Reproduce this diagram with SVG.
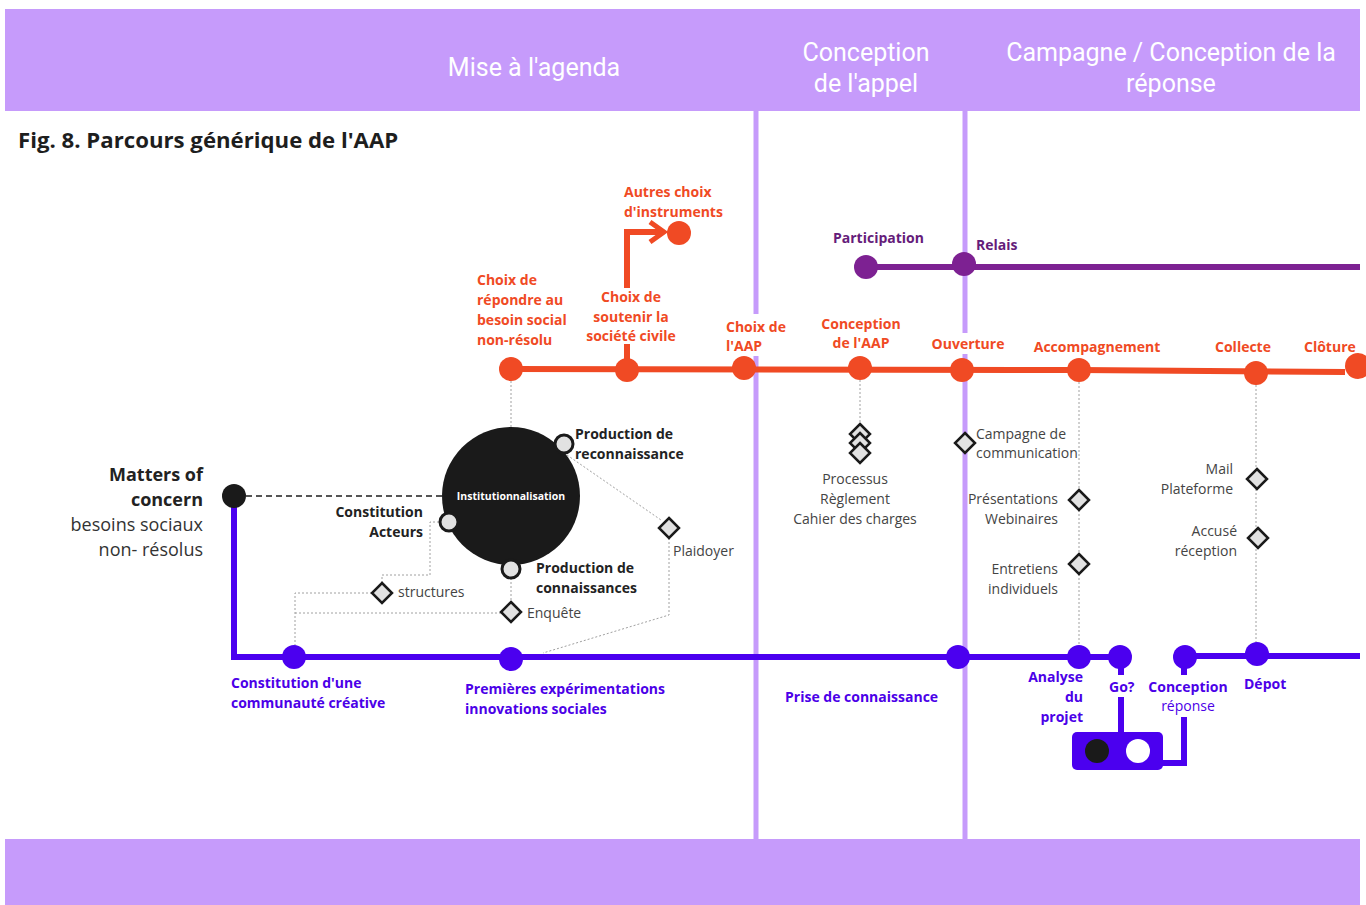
<svg xmlns="http://www.w3.org/2000/svg" width="1366" height="905" viewBox="0 0 1366 905">
  <style>
    .band { fill: #c69bfb; }
    .phase { fill: #ffffff; font-family: Roboto, "Open Sans", sans-serif; font-weight: 400; font-size: 25px; text-anchor: middle; }
    .title { fill: #1e1e1e; font-family: "Open Sans", sans-serif; font-weight: 700; font-size: 22.2px; }
    .sep { stroke: #c69bfb; stroke-width: 5; }
    .lbl-o { fill: #f04a24; font-family: "Open Sans", sans-serif; font-weight: 700; font-size: 14px; }
    .lbl-p { fill: #651c7a; font-family: "Open Sans", sans-serif; font-weight: 700; font-size: 14px; }
    .lbl-b { fill: #4b00e8; font-family: "Open Sans", sans-serif; font-weight: 700; font-size: 14px; }
    .lbl-bn { fill: #4b00e8; font-family: "Open Sans", sans-serif; font-weight: 400; font-size: 14px; }
    .lbl-k { fill: #222222; font-family: "Open Sans", sans-serif; font-weight: 700; font-size: 14px; }
    .lbl-g { fill: #444444; font-family: "Open Sans", sans-serif; font-weight: 400; font-size: 14px; }
    .big-k { fill: #222222; font-family: "Open Sans", sans-serif; font-weight: 700; font-size: 18px; text-anchor: end; }
    .big-g { fill: #333333; font-family: "Open Sans", sans-serif; font-weight: 400; font-size: 18px; text-anchor: end; }
    .mid { text-anchor: middle; }
    .end { text-anchor: end; }
    .bg { fill: #ffffff; }
    .line-o { stroke: #f04a24; stroke-width: 6; fill: none; }
    .line-p { stroke: #7d2192; stroke-width: 6; fill: none; }
    .line-b { stroke: #4b00ef; stroke-width: 6; fill: none; }
    .dot { stroke: #a0a0a0; stroke-width: 1; stroke-dasharray: 2 2; fill: none; }
    .dash { stroke: #555555; stroke-width: 1.8; stroke-dasharray: 6 4; fill: none; }
    .node-o { fill: #f04a24; }
    .node-p { fill: #7d2192; }
    .node-b { fill: #4b00ef; }
    .sub { fill: #e2e2e2; stroke: #1a1a1a; stroke-width: 3; }
    .dia { fill: #e2e2e2; stroke: #1a1a1a; stroke-width: 2.5; }
  </style>
  <defs>
    <polygon id="diamond" class="dia" points="0,-10 10,0 0,10 -10,0"/>
    <marker id="chev" viewBox="0 0 12 12" refX="9" refY="6" markerWidth="4" markerHeight="4" orient="auto" markerUnits="strokeWidth">
      <polyline points="2,1 9,6 2,11" fill="none" stroke="#f04a24" stroke-width="2.5"/>
    </marker>
  </defs>

  <!-- background -->
  <rect width="1366" height="905" fill="#ffffff"/>

  <!-- phase bands and separators -->
  <g id="phases">
    <rect class="band" x="5" y="9" width="1355" height="102"/>
    <rect class="band" x="5" y="839" width="1355" height="66"/>
    <line class="sep" x1="756" y1="111" x2="756" y2="839"/>
    <line class="sep" x1="965" y1="111" x2="965" y2="839"/>
    <text class="phase" x="534" y="76">Mise à l'agenda</text>
    <text class="phase" x="866" y="61">Conception</text>
    <text class="phase" x="866" y="92">de l'appel</text>
    <text class="phase" x="1171" y="61">Campagne / Conception de la</text>
    <text class="phase" x="1171" y="92">réponse</text>
  </g>

  <text id="title" class="title" x="18" y="148">Fig. 8. Parcours générique de l'AAP</text>

  <!-- connectors -->
  <g id="connectors">
    <!-- secondary dotted links -->
    <line class="dot" x1="511" y1="381" x2="511" y2="428"/>
    <polyline class="dot" points="443,522 430,522 430,575 382,575 382,583"/>
    <polyline class="dot" points="372,593 295,593 295,647"/>
    <line class="dot" x1="295" y1="613" x2="501" y2="613"/>
    <line class="dot" x1="511" y1="578" x2="511" y2="602"/>
    <line class="dot" x1="567" y1="455" x2="661" y2="520"/>
    <polyline class="dot" points="669,538 669,615 543,653"/>
    <line class="dot" x1="860" y1="380" x2="860" y2="425"/>
    <line class="dot" x1="1079" y1="382" x2="1079" y2="646"/>
    <line class="dot" x1="1256" y1="385" x2="1256" y2="643"/>
    <line class="dash" x1="246" y1="496" x2="443" y2="496"/>

    <!-- branch to other instruments -->
    <polyline class="line-o" points="627,368 627,232 664,232" marker-end="url(#chev)"/>

    <!-- main orange track -->
    <polyline class="line-o" points="511,369 1079,370 1345,372"/>

    <!-- purple track -->
    <line class="line-p" x1="866" y1="267" x2="1360" y2="267"/>

    <!-- blue track -->
    <polyline class="line-b" points="234,496 234,657 1120,657" stroke-linejoin="miter"/>
    <line class="line-b" x1="1185" y1="656" x2="1360" y2="656"/>
    <line class="line-b" x1="1121" y1="657" x2="1121" y2="675"/>
    <line class="line-b" x1="1121" y1="697" x2="1121" y2="733"/>
    <line class="line-b" x1="1184" y1="657" x2="1184" y2="675"/>
    <polyline class="line-b" points="1160,763 1184,763 1184,717"/>
  </g>

  <!-- label backgrounds that interrupt the separators -->
  <rect class="bg" x="585" y="288" width="94" height="56"/>
  <rect class="bg" x="723" y="314" width="66" height="42"/>
  <rect class="bg" x="930" y="333" width="76" height="21"/>

  <!-- orange track nodes -->
  <g id="n-repondre">
    <circle class="node-o" cx="511" cy="369" r="12"/>
    <text class="lbl-o" x="477" y="285">Choix de</text>
    <text class="lbl-o" x="477" y="305">répondre au</text>
    <text class="lbl-o" x="477" y="325">besoin social</text>
    <text class="lbl-o" x="477" y="345">non-résolu</text>
  </g>
  <g id="n-soutenir">
    <circle class="node-o" cx="627" cy="370" r="12"/>
    <text class="lbl-o mid" x="631" y="302">Choix de</text>
    <text class="lbl-o mid" x="631" y="322">soutenir la</text>
    <text class="lbl-o mid" x="631" y="341">société civile</text>
  </g>
  <g id="n-autres">
    <circle class="node-o" cx="679" cy="233" r="12"/>
    <text class="lbl-o" x="624" y="197">Autres choix</text>
    <text class="lbl-o" x="624" y="217">d'instruments</text>
  </g>
  <g id="n-choix-aap">
    <circle class="node-o" cx="744" cy="368" r="12"/>
    <text class="lbl-o" x="726" y="332">Choix de</text>
    <text class="lbl-o" x="726" y="351">l'AAP</text>
  </g>
  <g id="n-conception-aap">
    <circle class="node-o" cx="860" cy="368" r="12"/>
    <text class="lbl-o mid" x="861" y="329">Conception</text>
    <text class="lbl-o mid" x="861" y="348">de l'AAP</text>
    <use href="#diamond" x="860" y="434"/>
    <use href="#diamond" x="860" y="443"/>
    <use href="#diamond" x="860" y="453"/>
    <text class="lbl-g mid" x="855" y="484">Processus</text>
    <text class="lbl-g mid" x="855" y="504">Règlement</text>
    <text class="lbl-g mid" x="855" y="524">Cahier des charges</text>
  </g>
  <g id="n-ouverture">
    <circle class="node-o" cx="962" cy="370" r="12"/>
    <text class="lbl-o mid" x="968" y="349">Ouverture</text>
    <use href="#diamond" x="965" y="443"/>
    <text class="lbl-g" x="976" y="439">Campagne de</text>
    <text class="lbl-g" x="976" y="458">communication</text>
  </g>
  <g id="n-accompagnement">
    <circle class="node-o" cx="1079" cy="370" r="12"/>
    <text class="lbl-o mid" x="1097" y="352">Accompagnement</text>
    <use href="#diamond" x="1079" y="500"/>
    <use href="#diamond" x="1079" y="564"/>
    <text class="lbl-g end" x="1058" y="504">Présentations</text>
    <text class="lbl-g end" x="1058" y="524">Webinaires</text>
    <text class="lbl-g end" x="1058" y="574">Entretiens</text>
    <text class="lbl-g end" x="1058" y="594">individuels</text>
  </g>
  <g id="n-collecte">
    <circle class="node-o" cx="1256" cy="373" r="12"/>
    <text class="lbl-o mid" x="1243" y="352">Collecte</text>
    <use href="#diamond" x="1257" y="479"/>
    <use href="#diamond" x="1258" y="538"/>
    <text class="lbl-g end" x="1233" y="474">Mail</text>
    <text class="lbl-g end" x="1233" y="494">Plateforme</text>
    <text class="lbl-g end" x="1237" y="536">Accusé</text>
    <text class="lbl-g end" x="1237" y="556">réception</text>
  </g>
  <g id="n-cloture">
    <text class="lbl-o" x="1304" y="352">Clôture</text>
    <circle class="node-o" cx="1358" cy="366" r="13"/>
  </g>

  <!-- purple track nodes -->
  <g id="n-participation">
    <circle class="node-p" cx="866" cy="267" r="12"/>
    <text class="lbl-p" x="833" y="243">Participation</text>
  </g>
  <g id="n-relais">
    <circle class="node-p" cx="964" cy="264" r="12"/>
    <text class="lbl-p" x="976" y="250">Relais</text>
  </g>

  <!-- origin -->
  <g id="n-matters">
    <circle cx="234" cy="496" r="12" fill="#1a1a1a"/>
    <text class="big-k" x="203" y="481">Matters of</text>
    <text class="big-k" x="203" y="506">concern</text>
    <text class="big-g" x="203" y="531">besoins sociaux</text>
    <text class="big-g" x="203" y="556">non- résolus</text>
  </g>

  <!-- institutionalisation cluster -->
  <g id="n-institution">
    <circle cx="511" cy="496" r="69" fill="#1a1a1a"/>
    <text x="511" y="500" fill="#ffffff" font-family="'Open Sans', sans-serif" font-weight="700" font-size="10.5" text-anchor="middle">Institutionnalisation</text>
  </g>
  <g id="n-reconnaissance">
    <circle class="sub" cx="564" cy="444" r="9"/>
    <text class="lbl-k" x="575" y="439">Production de</text>
    <text class="lbl-k" x="575" y="459">reconnaissance</text>
  </g>
  <g id="n-acteurs">
    <circle class="sub" cx="449" cy="522" r="9"/>
    <text class="lbl-k end" x="423" y="517">Constitution</text>
    <text class="lbl-k end" x="423" y="537">Acteurs</text>
  </g>
  <g id="n-connaissances">
    <circle class="sub" cx="511" cy="569" r="9"/>
    <text class="lbl-k" x="536" y="573">Production de</text>
    <text class="lbl-k" x="536" y="593">connaissances</text>
  </g>
  <g id="n-structures">
    <use href="#diamond" x="382" y="593"/>
    <text class="lbl-g" x="398" y="597">structures</text>
  </g>
  <g id="n-enquete">
    <use href="#diamond" x="511" y="612"/>
    <text class="lbl-g" x="527" y="618">Enquête</text>
  </g>
  <g id="n-plaidoyer">
    <use href="#diamond" x="669" y="528"/>
    <text class="lbl-g" x="673" y="556">Plaidoyer</text>
  </g>

  <!-- blue track nodes -->
  <g id="n-communaute">
    <circle class="node-b" cx="294" cy="657" r="12"/>
    <text class="lbl-b" x="231" y="688">Constitution d'une</text>
    <text class="lbl-b" x="231" y="708">communauté créative</text>
  </g>
  <g id="n-experimentations">
    <circle class="node-b" cx="511" cy="659" r="12"/>
    <text class="lbl-b" x="465" y="694">Premières expérimentations</text>
    <text class="lbl-b" x="465" y="714">innovations sociales</text>
  </g>
  <g id="n-prise">
    <circle class="node-b" cx="958" cy="657" r="12"/>
    <text class="lbl-b" x="785" y="702">Prise de connaissance</text>
  </g>
  <g id="n-analyse">
    <circle class="node-b" cx="1079" cy="657" r="12"/>
    <text class="lbl-b end" x="1083" y="682">Analyse</text>
    <text class="lbl-b end" x="1083" y="702">du</text>
    <text class="lbl-b end" x="1083" y="722">projet</text>
  </g>
  <g id="n-go">
    <circle class="node-b" cx="1120" cy="657" r="12"/>
    <text class="lbl-b" x="1109" y="692">Go?</text>
    <rect x="1072" y="732" width="91" height="38" rx="5" fill="#4b00ef"/>
    <circle cx="1097" cy="751" r="12" fill="#1a1a1a"/>
    <circle cx="1138" cy="751" r="12" fill="#ffffff"/>
  </g>
  <g id="n-conception-reponse">
    <circle class="node-b" cx="1185" cy="657" r="12"/>
    <text class="lbl-b mid" x="1188" y="692">Conception</text>
    <text class="lbl-bn mid" x="1188" y="711">réponse</text>
  </g>
  <g id="n-depot">
    <circle class="node-b" cx="1257" cy="654" r="12"/>
    <text class="lbl-b" x="1244" y="689">Dépot</text>
  </g>
</svg>
